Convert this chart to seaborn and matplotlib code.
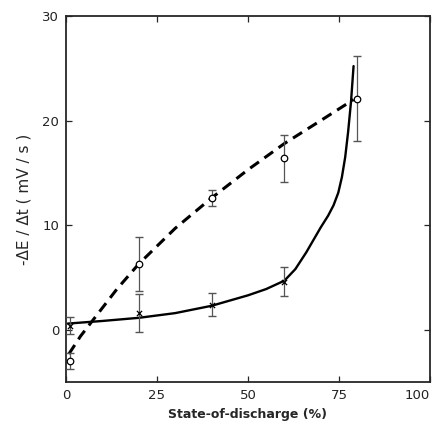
import matplotlib
matplotlib.use("Agg")
import matplotlib.pyplot as plt
import pandas as pd
import seaborn as sns

sod = [1, 20, 40, 60, 80]
circ_y = [-3.0, 6.3, 12.6, 16.4, 22.1]
circ_err = [0.75, 2.6, 0.8, 2.25, 4.05]
cross_x = [1, 20, 40, 60]
cross_y = [0.4, 1.6, 2.4, 4.6]
cross_err = [0.8, 1.8, 1.1, 1.4]

# hand-drawn trend curves, traced points
dash_x = [0.8, 4, 8, 14, 20, 30, 40, 50, 60, 70, 79]
dash_y = [-2.3, -0.6, 1.2, 3.9, 6.3, 9.7, 12.6, 15.3, 17.8, 20.0, 22.0]
solid_x = [0.5, 10, 20, 30, 40, 50, 55, 60, 63, 66, 68, 70, 72, 73.5, 74.8,
           75.8, 76.7, 77.5, 78.3, 79]
solid_y = [0.6, 0.85, 1.15, 1.6, 2.3, 3.3, 3.9, 4.7, 5.8, 7.4, 8.6, 9.8, 10.9,
           11.9, 13.1, 14.6, 16.5, 18.9, 21.8, 25.2]

sns.set_style("ticks")
plt.rcParams.update({"font.family": ["DejaVu Sans"]})

fig = plt.figure(figsize=(4.37, 4.28), dpi=100)
ax = fig.add_axes([0.151, 0.107, 0.833, 0.856])

dash = pd.DataFrame({"x": dash_x, "y": dash_y})
solid = pd.DataFrame({"x": solid_x, "y": solid_y})
sns.lineplot(data=dash, x="x", y="y", ax=ax, color="black", lw=2.2,
             linestyle=(0, (3.5, 2.2)), sort=False)
sns.lineplot(data=solid, x="x", y="y", ax=ax, color="black", lw=1.7, sort=False)

ax.errorbar(sod, circ_y, yerr=circ_err, fmt="none", ecolor="#555555",
            elinewidth=0.9, capsize=3, capthick=1.0, zorder=3)
ax.errorbar(cross_x, cross_y, yerr=cross_err, fmt="none", ecolor="#555555",
            elinewidth=0.9, capsize=3, capthick=1.0, zorder=3)
sns.scatterplot(x=sod, y=circ_y, ax=ax, marker="o", s=22, facecolor="white",
                edgecolor="black", linewidth=0.9, zorder=4)
sns.scatterplot(x=cross_x, y=cross_y, ax=ax, marker="x", s=14, color="black",
                linewidth=0.9, zorder=4)

ax.set(xlim=(0, 100), ylim=(-5, 30))
ax.set_xticks([0, 25, 50, 75, 100])
ax.set_yticks([0, 10, 20, 30])
ax.tick_params(direction="in", length=4, width=0.9, top=True, right=True,
               labelsize=9.5, labelcolor="#222222", pad=5)
ax.get_xticklabels()[-1].set_horizontalalignment("right")
for s in ax.spines.values():
    s.set_linewidth(1.3)

ax.set_xlabel("State-of-discharge (%)", fontsize=9, fontweight="bold", labelpad=4)
ax.set_ylabel("-\u0394E / \u0394t ( mV / s )", fontsize=11, labelpad=8)

fig.savefig("out.png", dpi=100)
